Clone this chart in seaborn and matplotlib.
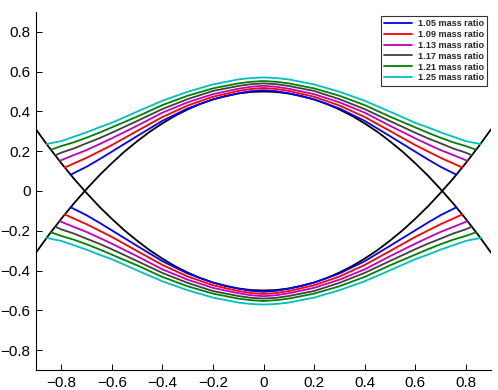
import numpy as np
import pandas as pd
import matplotlib
matplotlib.use("Agg")
import matplotlib.pyplot as plt
import seaborn as sns

# ---- data ----
# black curves (upper branch); lower branch is its mirror in y
black_x = [-0.9, -0.85, -0.8, -0.75, -0.7, -0.65, -0.6, -0.55, -0.5, -0.45,
           -0.4, -0.35, -0.3, -0.25, -0.2, -0.15, -0.1, -0.05, 0.0,
           0.05, 0.1, 0.15, 0.2, 0.25, 0.3, 0.35, 0.4, 0.45, 0.5,
           0.55, 0.6, 0.65, 0.7, 0.75, 0.8, 0.85, 0.9]
black_y = [-0.31, -0.222, -0.14, -0.062, 0.01, 0.078, 0.14, 0.198, 0.25, 0.298,
           0.34, 0.378, 0.41, 0.438, 0.46, 0.478, 0.49, 0.498, 0.50,
           0.498, 0.49, 0.478, 0.46, 0.438, 0.41, 0.378, 0.34, 0.298, 0.25,
           0.198, 0.14, 0.078, 0.01, -0.062, -0.14, -0.222, -0.31]

labels = ["1.05 mass ratio", "1.09 mass ratio", "1.13 mass ratio",
          "1.17 mass ratio", "1.21 mass ratio", "1.25 mass ratio"]

# colored curves, right half (x >= 0), upper branch; mirrored in x and y
x_105 = [0.0, 0.05, 0.1, 0.2, 0.3, 0.4, 0.5, 0.6, 0.65, 0.7, 0.763]
y_105 = [0.507, 0.502, 0.491, 0.461, 0.415, 0.353, 0.276, 0.198, 0.159, 0.122, 0.082]
x_109 = [0.0, 0.05, 0.1, 0.2, 0.3, 0.4, 0.5, 0.6, 0.65, 0.7, 0.75, 0.786]
y_109 = [0.518, 0.513, 0.503, 0.474, 0.430, 0.372, 0.302, 0.231, 0.199, 0.167, 0.139, 0.118]
x_113 = [0.0, 0.05, 0.1, 0.2, 0.3, 0.4, 0.5, 0.6, 0.65, 0.7, 0.75, 0.806]
y_113 = [0.529, 0.524, 0.514, 0.487, 0.446, 0.394, 0.328, 0.265, 0.235, 0.206, 0.181, 0.152]
x_117 = [0.0, 0.05, 0.1, 0.2, 0.3, 0.4, 0.5, 0.6, 0.65, 0.7, 0.75, 0.8, 0.823]
y_117 = [0.541, 0.537, 0.528, 0.503, 0.462, 0.412, 0.352, 0.293, 0.265, 0.240, 0.214, 0.193, 0.180]
x_121 = [0.0, 0.05, 0.1, 0.2, 0.3, 0.4, 0.5, 0.6, 0.65, 0.7, 0.75, 0.8, 0.840]
y_121 = [0.553, 0.549, 0.541, 0.516, 0.479, 0.432, 0.374, 0.320, 0.293, 0.268, 0.245, 0.226, 0.208]
x_125 = [0.0, 0.05, 0.1, 0.2, 0.3, 0.4, 0.5, 0.6, 0.65, 0.7, 0.75, 0.8, 0.858]
y_125 = [0.571, 0.568, 0.561, 0.536, 0.499, 0.454, 0.399, 0.343, 0.320, 0.295, 0.273, 0.251, 0.236]

series_x = [x_105, x_109, x_113, x_117, x_121, x_125]
series_y = [y_105, y_109, y_113, y_117, y_121, y_125]
colors = [(0, 0, 1), (1, 0, 0), (0.75, 0, 0.75), (0.25, 0.25, 0.25),
          (0, 0.5, 0), (0, 0.75, 0.75)]

ticks = [-0.8, -0.6, -0.4, -0.2, 0, 0.2, 0.4, 0.6, 0.8]
tick_labels = ["\u22120.8", "\u22120.6", "\u22120.4", "\u22120.2", "0",
               "0.2", "0.4", "0.6", "0.8"]

# ---- plot ----
sns.set_style("ticks")
plt.rcParams["font.family"] = ["Liberation Sans", "DejaVu Sans"]

fig = plt.figure(figsize=(4.98, 3.90), dpi=100)
ax = fig.add_axes([36 / 498, 1 - 370 / 390, (491 - 36) / 498, (370 - 12) / 390])

bx = np.array(black_x)
by = np.array(black_y)
sns.lineplot(x=bx, y=by, color="black", lw=1.3, sort=False, estimator=None, ax=ax)
sns.lineplot(x=bx, y=-by, color="black", lw=1.3, sort=False, estimator=None, ax=ax)

for xs, ys, c, lab in zip(series_x, series_y, colors, labels):
    xs = np.array(xs)
    ys = np.array(ys)
    full_x = np.concatenate([-xs[::-1], xs[1:]])
    full_y = np.concatenate([ys[::-1], ys[1:]])
    sns.lineplot(x=full_x, y=full_y, color=c, lw=1.3, sort=False,
                 estimator=None, ax=ax, label=lab)
    sns.lineplot(x=full_x, y=-full_y, color=c, lw=1.3, sort=False,
                 estimator=None, ax=ax)

ax.set_xlim(-0.9, 0.9)
ax.set_ylim(-0.9, 0.9)
ax.set_xticks(ticks)
ax.set_xticklabels(tick_labels)
ax.set_yticks(ticks)
ax.set_yticklabels(tick_labels)
ax.tick_params(direction="in", length=4, width=0.7, labelsize=11, pad=4,
               colors="black")
for s in ["top", "right"]:
    ax.spines[s].set_visible(False)
for s in ["left", "bottom"]:
    ax.spines[s].set_color("black")
    ax.spines[s].set_linewidth(0.8)

leg = ax.legend(loc="upper right", bbox_to_anchor=(487 / 498, 1 - 16 / 390),
                bbox_transform=fig.transFigure,
                prop={"weight": "bold", "size": 6.6},
                frameon=True, fancybox=False, handlelength=3.1,
                handletextpad=0.6, labelspacing=0.2, borderpad=0.35,
                borderaxespad=0)
leg.get_frame().set_edgecolor("black")
leg.get_frame().set_linewidth(0.8)
for line in leg.get_lines():
    line.set_linewidth(1.3)

fig.savefig("out.png", dpi=100)
